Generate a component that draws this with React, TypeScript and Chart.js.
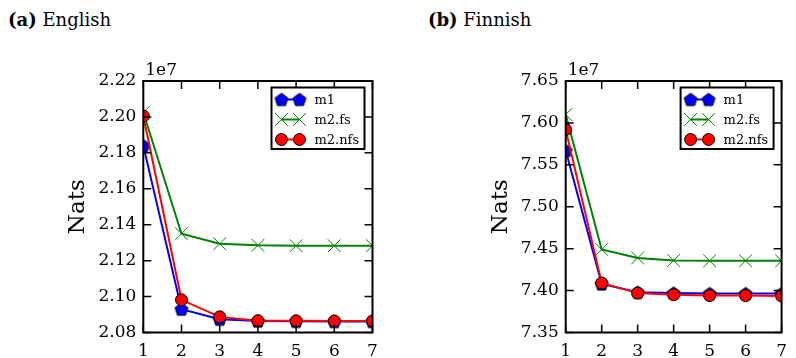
import React, { useEffect, useRef } from "react";
import { Chart, registerables } from "chart.js";

Chart.register(...registerables);

// x: iteration steps
const steps = [1, 2, 3, 4, 5, 6, 7];

// English (values in units of 1e7 nats)
const englishM1 = [2.184, 2.093, 2.0874, 2.0864, 2.0862, 2.0861, 2.0861];
const englishM2fs = [2.2025, 2.135, 2.1294, 2.1285, 2.1283, 2.1283, 2.1283];
const englishM2nfs = [2.2005, 2.0982, 2.0887, 2.0866, 2.0865, 2.0864, 2.0864];
const englishYTicks = { min: 2.08, max: 2.22, step: 0.02 };

// Finnish (values in units of 1e7 nats)
const finnishM1 = [7.567, 7.408, 7.398, 7.397, 7.3965, 7.3965, 7.3965];
const finnishM2fs = [7.61, 7.449, 7.439, 7.436, 7.4355, 7.4355, 7.4355];
const finnishM2nfs = [7.592, 7.409, 7.397, 7.395, 7.394, 7.394, 7.3935];
const finnishYTicks = { min: 7.35, max: 7.65, step: 0.05 };

const seriesNames = ["m1", "m2.fs", "m2.nfs"];
const seriesColors = ["#0000ff", "#008000", "#ff0000"];

const SERIF = "'DejaVu Serif', serif";

function makePentagon(): HTMLCanvasElement {
  const c = document.createElement("canvas");
  c.width = 16;
  c.height = 16;
  const ctx = c.getContext("2d")!;
  const r = 6.8;
  const cx = 8;
  const cy = 8.6;
  ctx.beginPath();
  for (let i = 0; i < 5; i++) {
    const a = -Math.PI / 2 + (i * 2 * Math.PI) / 5;
    const x = cx + r * Math.cos(a);
    const y = cy + r * Math.sin(a);
    if (i === 0) ctx.moveTo(x, y);
    else ctx.lineTo(x, y);
  }
  ctx.closePath();
  ctx.fillStyle = "#0000ff";
  ctx.fill();
  ctx.lineWidth = 1;
  ctx.strokeStyle = "#000";
  ctx.stroke();
  return c;
}

function drawMarker(ctx: CanvasRenderingContext2D, kind: number, x: number, y: number, pent: HTMLCanvasElement) {
  ctx.save();
  if (kind === 0) {
    ctx.drawImage(pent, x - 8, y - 8);
  } else if (kind === 1) {
    const o = 9 * Math.SQRT1_2;
    ctx.strokeStyle = seriesColors[1];
    ctx.lineWidth = 1;
    ctx.beginPath();
    ctx.moveTo(x - o, y - o);
    ctx.lineTo(x + o, y + o);
    ctx.moveTo(x - o, y + o);
    ctx.lineTo(x + o, y - o);
    ctx.stroke();
  } else {
    ctx.beginPath();
    ctx.arc(x, y, 6, 0, Math.PI * 2);
    ctx.fillStyle = seriesColors[2];
    ctx.fill();
    ctx.lineWidth = 1;
    ctx.strokeStyle = "#000";
    ctx.stroke();
  }
  ctx.restore();
}

const framePlugin = (pent: HTMLCanvasElement) => ({
  id: "mplFrame",
  afterDraw(chart: any) {
    const { ctx, chartArea: a, scales } = chart;
    ctx.save();
    // inward ticks on all four sides
    ctx.strokeStyle = "#000";
    ctx.lineWidth = 1.5;
    const tl = 8;
    ctx.beginPath();
    scales.x.ticks.forEach((_t: any, i: number) => {
      const px = scales.x.getPixelForTick(i);
      ctx.moveTo(px, a.bottom);
      ctx.lineTo(px, a.bottom - tl);
      ctx.moveTo(px, a.top);
      ctx.lineTo(px, a.top + tl);
    });
    scales.y.ticks.forEach((_t: any, i: number) => {
      const py = scales.y.getPixelForTick(i);
      ctx.moveTo(a.left, py);
      ctx.lineTo(a.left + tl, py);
      ctx.moveTo(a.right, py);
      ctx.lineTo(a.right - tl, py);
    });
    ctx.stroke();
    // frame
    ctx.lineWidth = 2;
    ctx.strokeRect(a.left, a.top, a.right - a.left, a.bottom - a.top);
    // offset text
    ctx.fillStyle = "#000";
    ctx.font = "17px " + SERIF;
    ctx.textAlign = "left";
    ctx.textBaseline = "alphabetic";
    ctx.fillText("1e7", a.left + 2, a.top - 6);
    // legend
    const bw = 93;
    const bh = 61.5;
    const bx = a.right - 8 - bw;
    const by = a.top + 6.5;
    ctx.fillStyle = "#fff";
    ctx.fillRect(bx, by, bw, bh);
    ctx.lineWidth = 2;
    ctx.strokeStyle = "#000";
    ctx.strokeRect(bx, by, bw, bh);
    ctx.font = "13px " + SERIF;
    ctx.textBaseline = "middle";
    seriesNames.forEach((name, i) => {
      const y = by + 12 + i * 20;
      const x0 = bx + 10;
      const x1 = bx + 28;
      ctx.strokeStyle = seriesColors[i];
      ctx.lineWidth = 2;
      ctx.beginPath();
      ctx.moveTo(x0, y);
      ctx.lineTo(x1, y);
      ctx.stroke();
      drawMarker(ctx, i, x0, y, pent);
      drawMarker(ctx, i, x1, y, pent);
      ctx.fillStyle = "#000";
      ctx.fillText(name, bx + 43, y + 1);
    });
    ctx.restore();
  },
});

type PanelProps = {
  left: number;
  width: number;
  padRight: number;
  yAxisWidth: number;
  titlePad: number;
  m1: number[];
  m2fs: number[];
  m2nfs: number[];
  yTicks: { min: number; max: number; step: number };
};

function Panel(props: PanelProps) {
  const ref = useRef<HTMLCanvasElement | null>(null);
  useEffect(() => {
    const pent = makePentagon();
    const pts = (arr: number[]) => arr.map((v, i) => ({ x: steps[i], y: v }));
    const chart = new Chart(ref.current!, {
      type: "line",
      data: {
        datasets: [
          {
            label: seriesNames[0],
            data: pts(props.m1),
            borderColor: seriesColors[0],
            backgroundColor: seriesColors[0],
            borderWidth: 2,
            pointStyle: pent as any,
            pointRadius: 7,
            order: 3,
            clip: 0 as any,
          },
          {
            label: seriesNames[1],
            data: pts(props.m2fs),
            borderColor: seriesColors[1],
            backgroundColor: seriesColors[1],
            borderWidth: 2,
            pointStyle: "crossRot",
            pointRadius: 9,
            pointBorderWidth: 1,
            order: 2,
            clip: 0 as any,
          },
          {
            label: seriesNames[2],
            data: pts(props.m2nfs),
            borderColor: seriesColors[2],
            backgroundColor: seriesColors[2],
            borderWidth: 2,
            pointStyle: "circle",
            pointRadius: 6,
            pointBorderColor: "#000",
            pointBackgroundColor: seriesColors[2],
            pointBorderWidth: 1,
            order: 1,
            clip: 0 as any,
          },
        ],
      },
      options: {
        animation: false,
        responsive: false,
        maintainAspectRatio: false,
        devicePixelRatio: 1,
        layout: {
          autoPadding: false,
          padding: { left: 0, right: props.padRight, top: 81, bottom: 0 },
        } as any,
        plugins: { legend: { display: false }, tooltip: { enabled: false } },
        elements: { line: { tension: 0 } },
        scales: {
          x: {
            type: "linear",
            min: 1,
            max: 7,
            grid: { display: false, drawTicks: false },
            border: { display: false },
            ticks: {
              stepSize: 1,
              padding: 9,
              color: "#000",
              font: { family: SERIF, size: 17 },
              callback: (v: any) => String(v),
            },
            afterFit: (s: any) => {
              s.height = 25.5;
            },
          },
          y: {
            type: "linear",
            min: props.yTicks.min,
            max: props.yTicks.max,
            grid: { display: false, drawTicks: false },
            border: { display: false },
            ticks: {
              stepSize: props.yTicks.step,
              padding: 7,
              color: "#000",
              font: { family: SERIF, size: 17 },
              callback: (v: any) => Number(v).toFixed(2),
            },
            title: {
              display: true,
              text: "Nats",
              color: "#000",
              font: { family: SERIF, size: 23 },
              padding: { top: props.titlePad, bottom: 0 },
            },
            afterFit: (s: any) => {
              s.width = props.yAxisWidth;
            },
          },
        },
      },
      plugins: [framePlugin(pent)],
    } as any);
    return () => chart.destroy();
  }, []);
  return (
    <canvas
      ref={ref}
      width={props.width}
      height={358}
      style={{ position: "absolute", left: props.left, top: 0, width: props.width, height: 358 }}
    />
  );
}

const titleStyle: React.CSSProperties = {
  position: "absolute",
  top: 11,
  fontFamily: SERIF,
  fontSize: 18,
  lineHeight: "18px",
  color: "#000",
  whiteSpace: "nowrap",
};

export default function App() {
  return (
    <div
      style={{
        position: "fixed",
        left: 0,
        top: 0,
        width: 796,
        height: 358,
        background: "#fff",
        overflow: "hidden",
      }}
    >
      <div style={{ ...titleStyle, left: 8 }}>
        <b>(a)</b> English
      </div>
      <div style={{ ...titleStyle, left: 428 }}>
        <b>(b)</b> Finnish
      </div>
      <Panel
        left={0}
        width={400}
        padRight={27.5}
        yAxisWidth={143.3}
        titlePad={64}
        m1={englishM1}
        m2fs={englishM2fs}
        m2nfs={englishM2nfs}
        yTicks={englishYTicks}
      />
      <Panel
        left={400}
        width={396}
        padRight={4}
        yAxisWidth={165.7}
        titlePad={87}
        m1={finnishM1}
        m2fs={finnishM2fs}
        m2nfs={finnishM2nfs}
        yTicks={finnishYTicks}
      />
    </div>
  );
}
